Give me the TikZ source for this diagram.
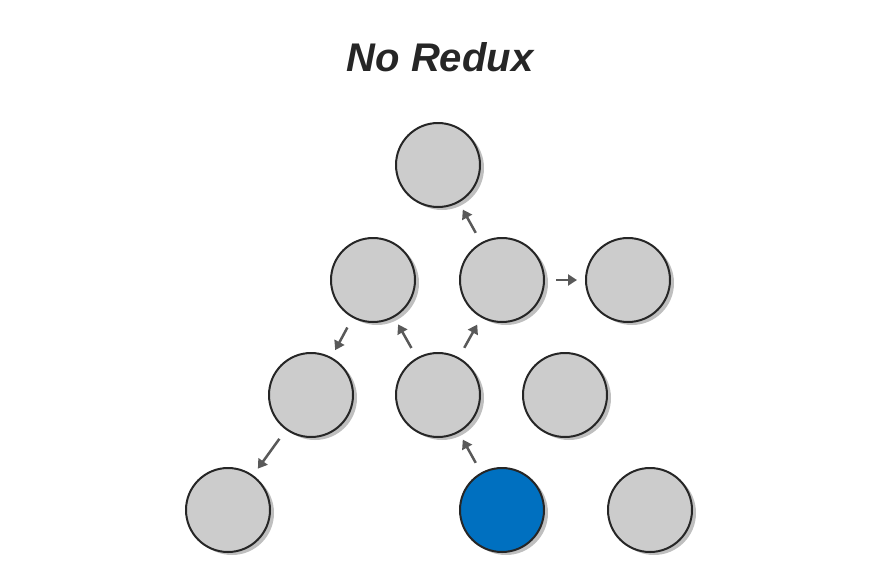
\documentclass[tikz,border=0pt]{standalone}
\usepackage{fontspec}
\usetikzlibrary{arrows.meta}
\newfontfamily\titlefont{Liberation Sans}
\begin{document}
\begin{tikzpicture}[x=1pt,y=-1pt,
  ball/.style={circle,minimum size=84pt,inner sep=0pt,draw=black!85,line width=2pt,fill=black!20},
  shade/.style={circle,minimum size=84pt,inner sep=0pt,fill=black!25},
  arr/.style={draw=black!65,line width=2.5pt,-{Triangle[length=9pt,width=11pt]},shorten <=11pt,shorten >=8pt}]
\useasboundingbox (0,0) rectangle (880,587);
\node[font=\titlefont\bfseries\itshape\fontsize{40}{40}\selectfont,text=black!85] (title) at (440,57) {No Redux};
\foreach \n/\x/\y in {t/438/165,a/373/280,b/502/280,c/628/280,d/311/395,e/438/395,f/565/395,g/228/510,i/650/510}{
  \node[shade] at (\x+4,\y+3) {};
  \node[ball] (\n) at (\x,\y) {};
}
\node[shade] at (506,513) {};
\node[ball,fill={rgb,255:red,0;green,112;blue,192}] (h) at (502,510) {};
\draw[arr] (b) -- (t);
\draw[arr] (b) -- (c);
\draw[arr] (a) -- (d);
\draw[arr] (e) -- (a);
\draw[arr] (e) -- (b);
\draw[arr] (d) -- (g);
\draw[arr] (h) -- (e);
\end{tikzpicture}
\end{document}
